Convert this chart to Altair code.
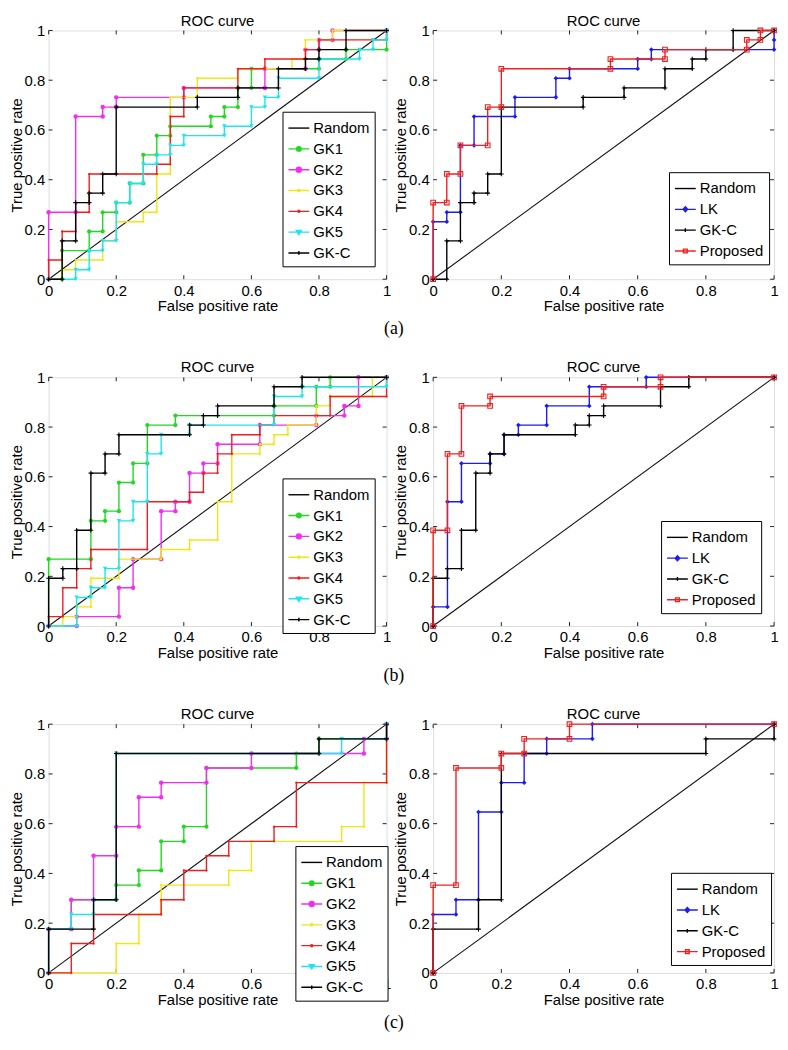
import altair as alt
import pandas as pd

FONT = "Liberation Sans"
TICKS = [0, 0.2, 0.4, 0.6, 0.8, 1]
RANDOM = [(0, 0), (1, 1)]

# ---------------- (a) ----------------
A_GK1 = [(0,0),(0.04,0),(0.04,0.115),(0.12,0.115),(0.12,0.192),(0.16,0.192),(0.16,0.269),(0.2,0.269),(0.2,0.308),(0.24,0.308),(0.24,0.385),(0.28,0.385),(0.28,0.5),(0.32,0.5),(0.32,0.577),(0.36,0.577),(0.36,0.615),(0.48,0.615),(0.48,0.654),(0.52,0.654),(0.52,0.692),(0.56,0.692),(0.56,0.769),(0.6,0.769),(0.6,0.846),(0.8,0.846),(0.8,0.885),(0.88,0.885),(0.88,0.923),(1,0.923),(1,1)]
A_GK2 = [(0,0),(0,0.269),(0.08,0.269),(0.08,0.654),(0.16,0.654),(0.16,0.692),(0.2,0.692),(0.2,0.731),(0.4,0.731),(0.4,0.769),(0.64,0.769),(0.64,0.846),(0.76,0.846),(0.76,0.923),(0.8,0.923),(0.8,0.962),(0.84,0.962),(0.84,1),(1,1)]
A_GK3 = [(0,0),(0.04,0),(0.04,0.038),(0.08,0.038),(0.08,0.077),(0.16,0.077),(0.16,0.154),(0.2,0.154),(0.2,0.231),(0.28,0.231),(0.28,0.269),(0.32,0.269),(0.32,0.423),(0.36,0.423),(0.36,0.731),(0.44,0.731),(0.44,0.808),(0.56,0.808),(0.56,0.846),(0.72,0.846),(0.72,0.885),(0.76,0.885),(0.76,0.962),(0.84,0.962),(0.84,1),(1,1)]
A_GK4 = [(0,0),(0,0.077),(0.04,0.077),(0.04,0.192),(0.08,0.192),(0.08,0.269),(0.12,0.269),(0.12,0.423),(0.32,0.423),(0.32,0.462),(0.36,0.462),(0.36,0.654),(0.4,0.654),(0.4,0.769),(0.56,0.769),(0.56,0.846),(0.64,0.846),(0.64,0.885),(0.76,0.885),(0.76,0.923),(0.8,0.923),(0.8,0.962),(1,0.962),(1,1)]
A_GK5 = [(0,0),(0.08,0),(0.08,0.038),(0.12,0.038),(0.12,0.115),(0.16,0.115),(0.16,0.154),(0.2,0.154),(0.2,0.308),(0.24,0.308),(0.24,0.385),(0.28,0.385),(0.28,0.462),(0.32,0.462),(0.32,0.5),(0.36,0.5),(0.36,0.538),(0.4,0.538),(0.4,0.577),(0.52,0.577),(0.52,0.615),(0.6,0.615),(0.6,0.692),(0.64,0.692),(0.64,0.731),(0.68,0.731),(0.68,0.808),(0.8,0.808),(0.8,0.885),(0.92,0.885),(0.92,0.923),(0.96,0.923),(0.96,0.962),(1,0.962),(1,1)]
A_GKC = [(0,0),(0.04,0),(0.04,0.154),(0.08,0.154),(0.08,0.308),(0.12,0.308),(0.12,0.346),(0.16,0.346),(0.16,0.423),(0.2,0.423),(0.2,0.692),(0.44,0.692),(0.44,0.731),(0.56,0.731),(0.56,0.769),(0.68,0.769),(0.68,0.846),(0.76,0.846),(0.76,0.885),(0.8,0.885),(0.8,0.923),(0.88,0.923),(0.88,1),(1,1)]
A_LK = [(0,0),(0,0.231),(0.04,0.231),(0.04,0.269),(0.08,0.269),(0.08,0.538),(0.12,0.538),(0.12,0.654),(0.24,0.654),(0.24,0.731),(0.36,0.731),(0.36,0.808),(0.4,0.808),(0.4,0.846),(0.6,0.846),(0.6,0.885),(0.64,0.885),(0.64,0.923),(1,0.923),(1,0.962),(1,1)]
A_PROP = [(0,0),(0,0.308),(0.04,0.308),(0.04,0.423),(0.08,0.423),(0.08,0.538),(0.16,0.538),(0.16,0.692),(0.2,0.692),(0.2,0.846),(0.52,0.846),(0.52,0.885),(0.68,0.885),(0.68,0.923),(0.92,0.923),(0.92,0.962),(0.96,0.962),(0.96,1),(1,1)]

# ---------------- (b) ----------------
B_GK1 = [(0,0),(0,0.269),(0.125,0.269),(0.125,0.423),(0.167,0.423),(0.167,0.462),(0.208,0.462),(0.208,0.577),(0.25,0.577),(0.25,0.654),(0.292,0.654),(0.292,0.808),(0.375,0.808),(0.375,0.846),(0.667,0.846),(0.667,0.885),(0.792,0.885),(0.792,0.962),(0.833,0.962),(0.833,1),(1,1)]
B_GK2 = [(0,0),(0.083,0),(0.083,0.038),(0.208,0.038),(0.208,0.154),(0.25,0.154),(0.25,0.269),(0.333,0.269),(0.333,0.462),(0.375,0.462),(0.375,0.5),(0.417,0.5),(0.417,0.615),(0.458,0.615),(0.458,0.654),(0.5,0.654),(0.5,0.731),(0.625,0.731),(0.625,0.808),(0.792,0.808),(0.792,0.846),(0.875,0.846),(0.875,0.885),(0.917,0.885),(0.917,1),(1,1)]
B_GK3 = [(0,0),(0.042,0),(0.042,0.038),(0.083,0.038),(0.083,0.077),(0.125,0.077),(0.125,0.192),(0.208,0.192),(0.208,0.269),(0.333,0.269),(0.333,0.308),(0.417,0.308),(0.417,0.346),(0.5,0.346),(0.5,0.5),(0.542,0.5),(0.542,0.692),(0.625,0.692),(0.625,0.731),(0.667,0.731),(0.667,0.769),(0.708,0.769),(0.708,0.808),(0.792,0.808),(0.792,0.885),(0.833,0.885),(0.833,0.923),(0.958,0.923),(0.958,1),(1,1)]
B_GK4 = [(0,0),(0,0.038),(0.042,0.038),(0.042,0.154),(0.083,0.154),(0.083,0.231),(0.125,0.231),(0.125,0.308),(0.292,0.308),(0.292,0.5),(0.417,0.5),(0.417,0.538),(0.458,0.538),(0.458,0.615),(0.5,0.615),(0.5,0.692),(0.542,0.692),(0.542,0.769),(0.625,0.769),(0.625,0.808),(0.667,0.808),(0.667,0.846),(0.833,0.846),(0.833,0.923),(1,0.923),(1,1)]
B_GK5 = [(0,0),(0.083,0),(0.083,0.115),(0.125,0.115),(0.125,0.154),(0.167,0.154),(0.167,0.231),(0.208,0.231),(0.208,0.423),(0.25,0.423),(0.25,0.5),(0.292,0.5),(0.292,0.692),(0.333,0.692),(0.333,0.769),(0.417,0.769),(0.417,0.808),(0.667,0.808),(0.667,0.923),(0.75,0.923),(0.75,0.962),(1,0.962),(1,1)]
B_GKC = [(0,0),(0,0.192),(0.042,0.192),(0.042,0.231),(0.083,0.231),(0.083,0.385),(0.125,0.385),(0.125,0.615),(0.167,0.615),(0.167,0.692),(0.208,0.692),(0.208,0.769),(0.417,0.769),(0.417,0.808),(0.458,0.808),(0.458,0.846),(0.5,0.846),(0.5,0.885),(0.667,0.885),(0.667,0.962),(0.75,0.962),(0.75,1),(1,1)]
B_LK = [(0,0),(0,0.077),(0.042,0.077),(0.042,0.5),(0.083,0.5),(0.083,0.654),(0.167,0.654),(0.167,0.692),(0.208,0.692),(0.208,0.769),(0.25,0.769),(0.25,0.808),(0.333,0.808),(0.333,0.885),(0.458,0.885),(0.458,0.962),(0.625,0.962),(0.625,1),(1,1)]
B_PROP = [(0,0),(0,0.385),(0.042,0.385),(0.042,0.692),(0.083,0.692),(0.083,0.885),(0.167,0.885),(0.167,0.923),(0.5,0.923),(0.5,0.962),(0.667,0.962),(0.667,1),(1,1)]

# ---------------- (c) ----------------
C_GK1 = [(0,0),(0,0.176),(0.067,0.176),(0.067,0.294),(0.2,0.294),(0.2,0.353),(0.267,0.353),(0.267,0.412),(0.333,0.412),(0.333,0.529),(0.4,0.529),(0.4,0.588),(0.467,0.588),(0.467,0.824),(0.733,0.824),(0.733,0.882),(0.8,0.882),(0.8,0.941),(1,0.941),(1,1)]
C_GK2 = [(0,0),(0,0.176),(0.067,0.176),(0.067,0.294),(0.133,0.294),(0.133,0.471),(0.2,0.471),(0.2,0.588),(0.267,0.588),(0.267,0.706),(0.333,0.706),(0.333,0.765),(0.467,0.765),(0.467,0.824),(0.6,0.824),(0.6,0.882),(0.933,0.882),(0.933,0.941),(1,0.941),(1,1)]
C_GK3 = [(0,0),(0.2,0),(0.2,0.118),(0.267,0.118),(0.267,0.235),(0.333,0.235),(0.333,0.353),(0.533,0.353),(0.533,0.412),(0.6,0.412),(0.6,0.529),(0.867,0.529),(0.867,0.588),(0.933,0.588),(0.933,0.765),(1,0.765),(1,1)]
C_GK4 = [(0,0),(0.067,0),(0.067,0.118),(0.133,0.118),(0.133,0.235),(0.333,0.235),(0.333,0.294),(0.4,0.294),(0.4,0.412),(0.467,0.412),(0.467,0.471),(0.533,0.471),(0.533,0.529),(0.667,0.529),(0.667,0.588),(0.733,0.588),(0.733,0.765),(1,0.765),(1,1)]
C_GK5 = [(0,0),(0,0.176),(0.067,0.176),(0.067,0.235),(0.133,0.235),(0.133,0.294),(0.2,0.294),(0.2,0.882),(0.867,0.882),(0.867,0.941),(1,0.941),(1,1)]
C_GKC = [(0,0),(0,0.176),(0.133,0.176),(0.133,0.294),(0.2,0.294),(0.2,0.882),(0.8,0.882),(0.8,0.941),(1,0.941),(1,1)]
C_LK = [(0,0),(0,0.235),(0.067,0.235),(0.067,0.294),(0.133,0.294),(0.133,0.647),(0.2,0.647),(0.2,0.765),(0.267,0.765),(0.267,0.882),(0.333,0.882),(0.333,0.941),(0.467,0.941),(0.467,1),(1,1)]
C_PROP = [(0,0),(0,0.353),(0.067,0.353),(0.067,0.824),(0.2,0.824),(0.2,0.882),(0.267,0.882),(0.267,0.941),(0.4,0.941),(0.4,1),(1,1)]

GK_NAMES = ["Random", "GK1", "GK2", "GK3", "GK4", "GK5", "GK-C"]
CMP_NAMES = ["Random", "LK", "GK-C", "Proposed"]

# style: line colour, marker shape, marker size, filled, legend symbol path, legend fill
STYLE = {
    "Random":   ("#000000", None, 0, False, "M-1,0H1", "transparent"),
    "GK1":      ("#22d822", "circle", 18, True,
                 "M-1,0H1M-0.22,0A0.22,0.22,0,1,1,0.22,0A0.22,0.22,0,1,1,-0.22,0Z", "#22d822"),
    "GK2":      ("#f22ef2", "circle", 20, True,
                 "M-1,0H1M-0.24,0A0.24,0.24,0,1,1,0.24,0A0.24,0.24,0,1,1,-0.24,0Z", "#f22ef2"),
    "GK3":      ("#f0e614", "circle", 5, True,
                 "M-1,0H1M-0.1,0A0.1,0.1,0,1,1,0.1,0A0.1,0.1,0,1,1,-0.1,0Z", "#f0e614"),
    "GK4":      ("#f01e1e", "circle", 5, True,
                 "M-1,0H1M-0.1,0A0.1,0.1,0,1,1,0.1,0A0.1,0.1,0,1,1,-0.1,0Z", "#f01e1e"),
    "GK5":      ("#1ee4f0", "triangle-down", 20, True,
                 "M-1,0H1M-0.24,-0.16L0.24,-0.16L0,0.24Z", "#1ee4f0"),
    "GK-C":     ("#000000", "M0,-1V1M-1,0H1", 22, False,
                 "M-1,0H1M0,-0.18V0.18", "#000000"),
    "LK":       ("#1c1cf5", "diamond", 22, True,
                 "M-1,0H1M0,-0.24L0.22,0L0,0.24L-0.22,0Z", "#1c1cf5"),
    "Proposed": ("#f02020", "square", 22, False,
                 "M-1,0H1M-0.18,-0.18H0.18V0.18H-0.18Z", "transparent"),
}

H = 251
INDEP = dict(stroke="independent", fill="independent", shape="independent")


def to_df(points):
    return pd.DataFrame({"x": [p[0] for p in points],
                         "y": [p[1] for p in points],
                         "i": list(range(len(points)))})


def axis(title, tsize, tpad):
    return alt.Axis(values=TICKS, format=".1~f", title=title, ticks=False,
                    labelPadding=4, domain=False, grid=False, labelFlush=False,
                    labelOverlap=False, labelFontSize=15, titleFontSize=tsize,
                    titleFontWeight="normal", titlePadding=tpad, labelFont=FONT,
                    titleFont=FONT, labelColor="black", titleColor="black")


def xenc():
    return alt.X("x:Q", scale=alt.Scale(domain=[0, 1], nice=False, zero=False),
                 axis=axis("False positive rate", 15, 1))


def yenc():
    return alt.Y("y:Q", scale=alt.Scale(domain=[0, 1], nice=False, zero=False),
                 axis=axis("True positive rate", 15, 0))


def panel(curves, names, lx, ly, w):
    tick_df = pd.DataFrame({"x": TICKS, "y": TICKS})
    tk = dict(color="#222222", strokeWidth=1)
    layers = [
        alt.Chart(tick_df).mark_rule(**tk).encode(y=yenc(), x=alt.value(0), x2=alt.value(4)),
        alt.Chart(tick_df).mark_rule(**tk).encode(y=yenc(), x=alt.value(w - 4), x2=alt.value(w)),
        alt.Chart(tick_df).mark_rule(**tk).encode(x=xenc(), y=alt.value(H - 4), y2=alt.value(H)),
        alt.Chart(tick_df).mark_rule(**tk).encode(x=xenc(), y=alt.value(0), y2=alt.value(4)),
        alt.Chart(to_df(RANDOM)).mark_line(color="#111111", strokeWidth=1.1).encode(
            x=xenc(), y=yenc(), order="i:Q"),
    ]
    for name, pts in zip(names[1:], curves):
        col, shp, sz, filled, _, _ = STYLE[name]
        df = to_df(pts)
        layers.append(alt.Chart(df).mark_line(color=col, strokeWidth=1.4).encode(
            x=xenc(), y=yenc(), order="i:Q"))
        layers.append(alt.Chart(df).mark_point(shape=shp, size=sz, filled=filled, color=col,
                                               strokeWidth=1.1, opacity=1).encode(
            x=xenc(), y=yenc()))
    leg = alt.Legend(title=None, orient="none", legendX=lx, legendY=ly,
                     strokeColor="black", fillColor="white", padding=5,
                     labelFont=FONT, labelFontSize=15, labelColor="black",
                     symbolSize=441, symbolStrokeWidth=1.4, rowPadding=1,
                     labelOffset=3, symbolOpacity=1, cornerRadius=0)
    leg_df = pd.DataFrame({"x": [0] * len(names), "y": [0] * len(names), "series": names})
    layers.append(
        alt.Chart(leg_df).transform_filter("datum.x > 2").mark_point(strokeWidth=1.4, opacity=1).encode(
            x=xenc(), y=yenc(),
            stroke=alt.Stroke("series:N", scale=alt.Scale(domain=names, range=[STYLE[n][0] for n in names]), legend=leg),
            fill=alt.Fill("series:N", scale=alt.Scale(domain=names, range=[STYLE[n][5] for n in names]), legend=leg),
            shape=alt.Shape("series:N", scale=alt.Scale(domain=names, range=[STYLE[n][4] for n in names]), legend=leg),
        )
    )
    return alt.layer(*layers).properties(
        width=w, height=H,
        title=alt.TitleParams("ROC curve", fontSize=15, font=FONT, fontWeight="normal",
                              color="black", offset=-5, frame="group"),
    )


WL, WR = 341, 344


def row(left, right, label):
    return alt.hconcat(left, right, spacing=0).resolve_scale(**INDEP).properties(
        title=alt.TitleParams(label, orient="bottom", anchor="middle", font="Liberation Serif",
                              fontSize=18, fontWeight="normal", color="black", offset=6)
    )


row_a = row(panel([A_GK1, A_GK2, A_GK3, A_GK4, A_GK5, A_GKC], GK_NAMES, 236, 82, WL),
            panel([A_LK, A_GKC, A_PROP], CMP_NAMES, 238, 143, WR), "(a)")
row_b = row(panel([B_GK1, B_GK2, B_GK3, B_GK4, B_GK5, B_GKC], GK_NAMES, 236, 102, WL),
            panel([B_LK, B_GKC, B_PROP], CMP_NAMES, 230, 145, WR), "(b)")
row_c = row(panel([C_GK1, C_GK2, C_GK3, C_GK4, C_GK5, C_GKC], GK_NAMES, 249, 123, WL),
            panel([C_LK, C_GKC, C_PROP], CMP_NAMES, 240, 150, WR), "(c)")

chart = alt.vconcat(row_a, row_b, row_c, spacing=21).resolve_scale(**INDEP).properties(
    padding={"left": 0, "top": 0, "right": 0, "bottom": 0}
).configure_view(stroke="#222222", strokeWidth=1).configure(background="white")

chart.save("out.html", embed_options={"renderer": "svg", "actions": False})
